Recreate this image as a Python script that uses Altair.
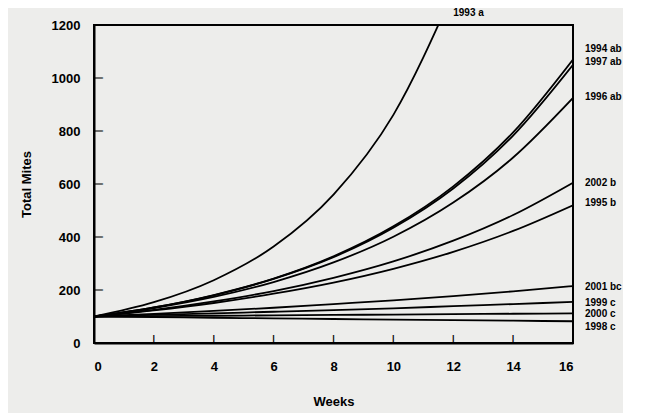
import altair as alt
import pandas as pd

weeks = [0, 2, 4, 6, 8, 10, 12, 14, 16]
series_names = ["1993", "1994", "1997", "1996", "2002", "1995", "2001", "1999", "2000", "1998"]
v1993 = [100, 154, 237, 364, 560, 861, 1325, None, None]
v1994 = [100, 134, 181, 243, 327, 440, 591, 795, 1070]
v1997 = [100, 134, 180, 242, 324, 435, 583, 783, 1050]
v1996 = [100, 132, 174, 230, 304, 401, 530, 700, 925]
v2002 = [100, 125, 157, 196, 246, 308, 386, 483, 605]
v1995 = [100, 123, 151, 186, 228, 280, 344, 423, 520]
v2001 = [100, 110, 121, 133, 147, 161, 177, 195, 215]
v1999 = [100, 106, 112, 118, 124, 131, 139, 147, 155]
v2000 = [100, 101.4, 102.9, 104.3, 105.8, 107.3, 108.9, 110.4, 112]
v1998 = [100, 97.6, 95.2, 92.8, 90.6, 88.4, 86.2, 84.1, 82]
all_values = [v1993, v1994, v1997, v1996, v2002, v1995, v2001, v1999, v2000, v1998]

label_texts = ["1993  a", "1994  ab", "1997  ab", "1996  ab", "2002  b", "1995  b",
               "2001  bc", "1999  c", "2000  c", "1998  c"]
label_x = [12.0, 16.4, 16.4, 16.4, 16.4, 16.4, 16.4, 16.4, 16.4, 16.4]
label_y = [1245, 1109, 1060, 928, 604, 528, 211, 150, 110, 60]

x_ticks = [2, 4, 6, 8, 10, 12, 14]
y_ticks = [200, 400, 600, 800, 1000]

rows = []
for name, vals in zip(series_names, all_values):
    for w, v in zip(weeks, vals):
        if v is not None:
            rows.append({"series": name, "week": w, "mites": v})
df = pd.DataFrame(rows)
lab = pd.DataFrame({"text": label_texts, "x": label_x, "y": label_y})
xt = pd.DataFrame({"x": x_ticks, "y": [0] * len(x_ticks)})
yt = pd.DataFrame({"x": [0] * len(y_ticks), "y": y_ticks})

FONT = "Liberation Sans"
W, H = 479, 318
xs = alt.Scale(domain=[0, 16], nice=False, zero=False)
ys = alt.Scale(domain=[0, 1200], nice=False)

lines = alt.Chart(df).mark_line(color="black", strokeWidth=1.8, interpolate="monotone", clip=True).encode(
    x=alt.X("week:Q", scale=xs, axis=alt.Axis(
        values=list(range(0, 17, 2)), format="d", title="Weeks", labelFont=FONT, labelFontWeight="bold",
        labelFontSize=13, labelColor="black", titleFont=FONT, titleFontWeight="bold", titleFontSize=13,
        titleColor="black", ticks=False, labelPadding=17, titlePadding=22, grid=False,
        domainColor="black", domainWidth=2)),
    y=alt.Y("mites:Q", scale=ys, axis=alt.Axis(
        values=list(range(0, 1201, 200)), format="d", title="Total Mites", labelFont=FONT,
        labelFontWeight="bold", labelFontSize=13, labelColor="black", titleFont=FONT,
        titleFontWeight="bold", titleFontSize=13, titleColor="black", ticks=False, labelPadding=14,
        titlePadding=18, grid=False, domainColor="black", domainWidth=2)),
    detail="series:N",
)

texts = alt.Chart(lab).mark_text(align="left", baseline="middle", font=FONT, fontWeight="bold",
                                 fontSize=10, color="black").encode(
    x=alt.X("x:Q", scale=xs), y=alt.Y("y:Q", scale=ys), text="text:N")

xtick = alt.Chart(xt).mark_text(text="|", font=FONT, fontSize=9, fontWeight="bold", color="black",
                                baseline="bottom", align="center", dy=1).encode(
    x=alt.X("x:Q", scale=xs), y=alt.Y("y:Q", scale=ys))
ytick = alt.Chart(yt).mark_text(text="|", font=FONT, fontSize=9, fontWeight="bold", color="black",
                                baseline="bottom", align="center", angle=90).encode(
    x=alt.X("x:Q", scale=xs), y=alt.Y("y:Q", scale=ys))

chart = alt.layer(lines, texts, xtick, ytick).properties(
    width=W, height=H,
    autosize=alt.AutoSizeParams(type="none"),
    padding={"left": 86, "top": 17, "right": 50, "bottom": 70},
    background="#ededeb",
).configure_view(stroke="black", strokeWidth=2)

chart.save("out.html", embed_options={"renderer": "svg", "actions": False})
